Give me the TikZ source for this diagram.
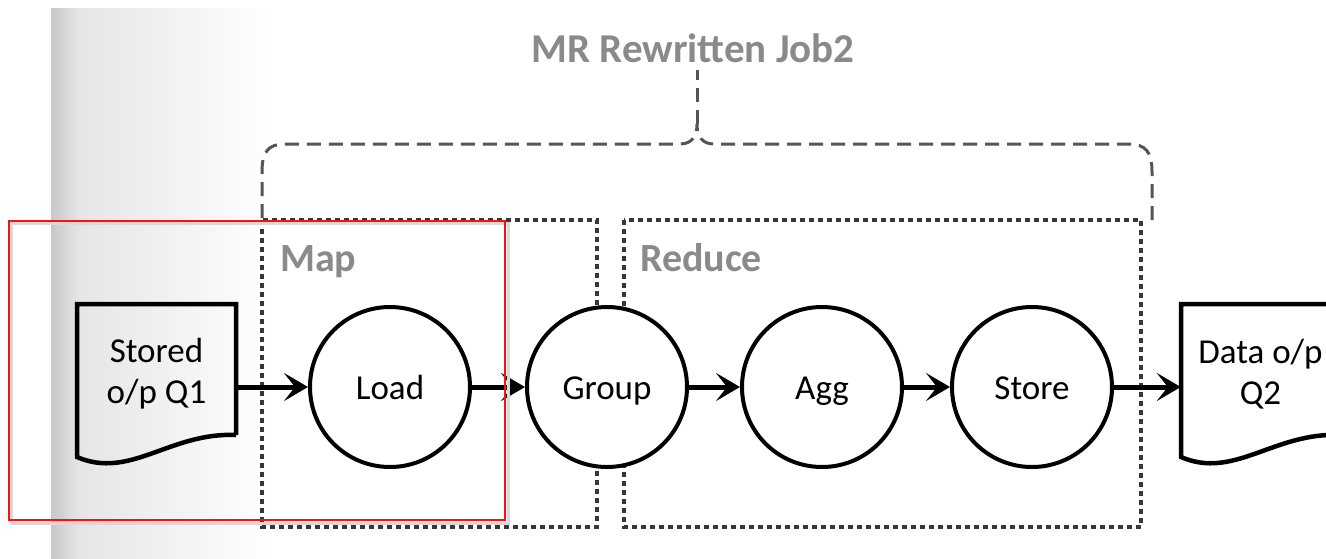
\documentclass[tikz,border=0pt]{standalone}
\usepackage{fontspec}
\setmainfont{Carlito}
\usetikzlibrary{arrows.meta,calc}
\definecolor{lbl}{RGB}{138,138,138}
\definecolor{brc}{RGB}{85,85,85}
\definecolor{dotc}{RGB}{55,55,55}
\definecolor{bgA}{RGB}{200,200,200}
\definecolor{bgB}{RGB}{230,230,230}
\definecolor{redbox}{RGB}{240,20,20}
\begin{document}
\begin{tikzpicture}[x=1pt,y=-1pt,
  proc/.style={circle,draw=black,line width=4pt,fill=white,minimum size=160pt,inner sep=0pt,
    font=\fontsize{35}{41}\selectfont,text height=25pt,text depth=0pt},
  flow/.style={line width=5pt,-{Stealth[length=24pt,width=28pt,inset=11pt]}},
  phase/.style={draw=dotc,line width=3.5pt,dash pattern=on 5pt off 4pt},
  phaselbl/.style={text=lbl,font=\bfseries\fontsize{40}{48}\selectfont,anchor=base west,inner sep=0pt},
  doctext/.style={font=\fontsize{35}{41}\selectfont,align=center,inner sep=0pt,minimum width=159pt},
  docline/.style={draw=black,line width=4.5pt,line join=miter},
  bracestyle/.style={draw=brc,line width=3pt,dash pattern=on 14pt off 8pt},
]
\useasboundingbox (0,0) rectangle (1326,558);
\fill[white] (0,0) rectangle (1326,558);
\shade[left color=bgA,right color=bgB] (51,8) rectangle (80,558);
\shade[left color=bgB,right color=white] (80,8) rectangle (275,558);

% phase boxes
\draw[phase] (262,220) rectangle (597,527);
\draw[phase] (624,220) rectangle (1141,527);
\node[phaselbl] (maplbl) at (280,271) {Map};
\node[phaselbl] (redlbl) at (640,271) {Reduce};

% brace and title
\node[text=lbl,font=\bfseries\fontsize{41}{48}\selectfont,anchor=base,inner sep=0pt] (title) at (693,62) {MR Rewritten Job2};
\coordinate (tip) at (697,124);
\draw[bracestyle] (262,218) -- (262,172) .. controls (262,152) and (268,144) .. (285,144)
  -- (680,144) .. controls (692,144) and (697,136) .. (tip)
  .. controls (697,136) and (702,144) .. (714,144) -- (1128,144)
  .. controls (1146,144) and (1152,152) .. (1152,172) -- (1152,220);
\draw[bracestyle] (tip) -- (697,70);

% documents
\node[doctext] (doc1) at (156.5,374) {Stored\\o/p Q1};
\draw[docline] (236,435) -- (236,304) -- (77,304) -- (77,457) .. controls (130,480) and (170,432) .. (236,435);
\node[doctext] (doc2) at (1260.5,374) {Data o/p\\Q2};
\draw[docline] (1345,304) -- (1181,304) -- (1181,457) .. controls (1234,480) and (1274,432) .. (1340,435) -- (1345,435);

% processes
\node[proc] (load) at (390,387) {Load};
\node[proc] (group) at (607,387) {Group};
\node[proc] (agg) at (822,387) {Agg};
\node[proc] (store) at (1032,387) {Store};

% flows
\draw[flow] (doc1.east |- load.west) -- (load.west);
\draw[flow] (load) -- (group);
\draw[flow] (group) -- (agg);
\draw[flow] (agg) -- (store);
\draw[flow] (store.east) -- (store.east -| doc2.west);

% red annotation box
\draw[black!15,line width=3pt] (11,223) rectangle (508,523);
\draw[redbox,line width=2pt] (9,221) rectangle (505,520);
\end{tikzpicture}
\end{document}
